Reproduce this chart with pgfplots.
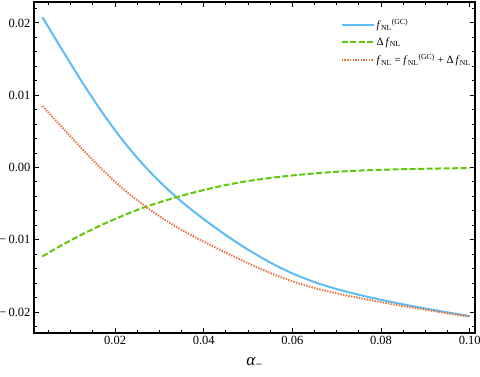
\documentclass[border=0pt]{standalone}
\usepackage{fontspec}
\setmainfont{Liberation Serif}
\usepackage{pgfplots}
\usepackage{pgfplotstable}
\pgfplotsset{compat=1.18}
\definecolor{cblue}{RGB}{94,188,245}
\definecolor{cgreen}{RGB}{96,200,10}
\definecolor{corange}{RGB}{232,116,64}

\pgfplotstableread{
x y
0.0036 0.02080
0.005 0.01937
0.0075 0.01683
0.010 0.01433
0.0125 0.01188
0.015 0.00952
0.0175 0.00727
0.020 0.00514
0.0225 0.00316
0.025 0.00133
0.0275 -0.00036
0.030 -0.00192
0.0325 -0.00337
0.035 -0.00472
0.0375 -0.00597
0.040 -0.00715
0.0425 -0.00828
0.045 -0.00936
0.0475 -0.01039
0.050 -0.01137
0.055 -0.01315
0.060 -0.01465
0.065 -0.01586
0.070 -0.01682
0.075 -0.01761
0.080 -0.01830
0.085 -0.01893
0.090 -0.01951
0.095 -0.02005
0.100 -0.02056
}\gc
\pgfplotstableread{
x y
0.0036 -0.01230
0.005 -0.01179
0.0075 -0.01091
0.010 -0.01007
0.0125 -0.00927
0.015 -0.00852
0.0175 -0.00780
0.020 -0.00712
0.0225 -0.00648
0.025 -0.00587
0.0275 -0.00532
0.030 -0.00482
0.0325 -0.00435
0.035 -0.00391
0.0375 -0.00350
0.040 -0.00311
0.0425 -0.00276
0.045 -0.00243
0.0475 -0.00213
0.050 -0.00187
0.055 -0.00145
0.060 -0.00110
0.065 -0.00082
0.070 -0.00059
0.075 -0.00043
0.080 -0.00032
0.085 -0.00024
0.090 -0.00017
0.095 -0.00012
0.100 -0.00007
}\dfnl
\pgfplotstableread{
x y
0.0036 0.00850
0.005 0.00758
0.0075 0.00592
0.010 0.00426
0.0125 0.00261
0.015 0.00100
0.0175 -0.00053
0.020 -0.00198
0.0225 -0.00332
0.025 -0.00454
0.0275 -0.00568
0.030 -0.00674
0.0325 -0.00772
0.035 -0.00863
0.0375 -0.00947
0.040 -0.01026
0.0425 -0.01104
0.045 -0.01179
0.0475 -0.01252
0.050 -0.01324
0.055 -0.01460
0.060 -0.01575
0.065 -0.01668
0.070 -0.01741
0.075 -0.01804
0.080 -0.01862
0.085 -0.01917
0.090 -0.01968
0.095 -0.02017
0.100 -0.02063
}\fnl

\begin{document}
\begin{tikzpicture}
\useasboundingbox (-34pt,-43pt) rectangle (446pt,333pt);
\begin{axis}[
  at={(0,0)}, anchor=south west,
  scale only axis, width=441pt, height=331pt,
  xmin=0.0017, xmax=0.1012, ymin=-0.0229, ymax=0.0229,
  axis line style={line width=1.5pt},
  tick align=inside,
  major tick length=5pt, minor tick length=3pt,
  every tick/.style={black, line width=1pt},
  xtick={0.02,0.04,0.06,0.08,0.10},
  xticklabels={0.02,0.04,0.06,0.08,0.10},
  minor xtick={0.005,0.01,0.015,0.025,0.03,0.035,0.045,0.05,0.055,0.065,0.07,0.075,0.085,0.09,0.095},
  ytick={-0.02,-0.01,0,0.01,0.02},
  yticklabels={−\,0.02,−\,0.01,0.00,0.01,0.02},
  minor ytick={-0.022,-0.018,-0.016,-0.014,-0.012,-0.008,-0.006,-0.004,-0.002,0.002,0.004,0.006,0.008,0.012,0.014,0.016,0.018,0.022},
  ticklabel style={font=\fontsize{12.5}{14}\selectfont},
  xlabel={\fontsize{17}{19}\selectfont\textit{α}\textsubscript{−}},
  xlabel style={at={(axis description cs:0.5,0)}, anchor=center, yshift=-30pt},
  legend style={draw=none, fill=none, at={(0.695,0.955)}, anchor=north west,
    font=\fontsize{11}{13.5}\selectfont, inner sep=0pt, row sep=3.5pt},
  legend cell align=left,
  legend image code/.code={\draw[#1] (0pt,0pt) -- (32pt,0pt);},
]
\addplot[cblue, line width=2pt, smooth] table {\gc};
\addlegendentry{\textit{f}\textsubscript{NL}\textsuperscript{(GC)}}
\addplot[cgreen, line width=2pt, smooth, dash pattern=on 6pt off 2.5pt] table {\dfnl};
\addlegendentry{Δ\,\textit{f}\textsubscript{NL}}
\addplot[corange, line width=2pt, smooth, dash pattern=on 1.4pt off 1.3pt] table {\fnl};
\addlegendentry{\textit{f}\textsubscript{NL} = \textit{f}\textsubscript{NL}\textsuperscript{(GC)} + Δ\,\textit{f}\textsubscript{NL}}
\end{axis}
\end{tikzpicture}
\end{document}
